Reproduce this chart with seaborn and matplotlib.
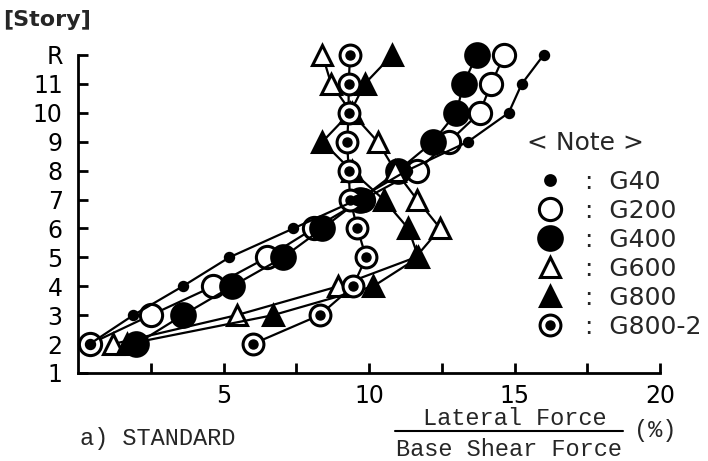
import matplotlib
matplotlib.use("Agg")
import matplotlib.pyplot as plt
from matplotlib.lines import Line2D
import seaborn as sns
import pandas as pd

stories = [2, 3, 4, 5, 6, 7, 8, 9, 10, 11, 12]
G40 = [0.4, 1.9, 3.6, 5.2, 7.4, 9.6, 11.3, 13.4, 14.8, 15.25, 16.0]
G200 = [0.4, 2.5, 4.65, 6.5, 8.1, 9.8, 11.65, 12.75, 13.8, 14.2, 14.65]
G400 = [2.0, 3.6, 5.3, 7.05, 8.4, 9.7, 11.0, 12.2, 13.0, 13.25, 13.7]
G600 = [1.2, 5.45, 8.95, 11.6, 12.45, 11.65, 10.9, 10.3, 9.4, 8.7, 8.4]
G800 = [1.7, 6.7, 10.15, 11.7, 11.35, 10.5, 9.4, 8.4, 9.35, 9.85, 10.8]
G800_2 = [6.0, 8.3, 9.45, 9.9, 9.6, 9.35, 9.3, 9.25, 9.3, 9.3, 9.35]

series_names = ["G40", "G200", "G400", "G600", "G800", "G800-2"]
series_vals = [G40, G200, G400, G600, G800, G800_2]
ytick_pos = [1, 2, 3, 4, 5, 6, 7, 8, 9, 10, 11, 12]
ytick_labels = ["1", "2", "3", "4", "5", "6", "7", "8", "9", "10", "11", "R"]
xtick_labels = ["", "5", "", "10", "", "15", "", "20"]

sns.set_theme(style="white")
plt.rcParams["font.family"] = ["DejaVu Sans"]

fig = plt.figure(figsize=(7.08, 4.61), dpi=100)
ax = fig.add_axes([78 / 708, 1 - 373 / 461, (660 - 78) / 708, (373 - 55) / 461])

styles = {
    "G40": dict(marker="o", ms=6, mfc="black", mec="black"),
    "G200": dict(marker="o", ms=16, mfc="white", mec="black"),
    "G400": dict(marker="o", ms=17, mfc="black", mec="black"),
    "G600": dict(marker="^", ms=15, mfc="white", mec="black"),
    "G800": dict(marker="^", ms=15, mfc="black", mec="black"),
    "G800-2": dict(marker="o", ms=15, mfc="white", mec="black"),
}

frames = []
for name, vals in zip(series_names, series_vals):
    frames.append(pd.DataFrame({"series": name, "story": stories, "force": vals}))
df = pd.concat(frames, ignore_index=True)

draw_order = ["G200", "G400", "G600", "G800", "G800-2", "G40"]
for name in draw_order:
    sub = df[df["series"] == name]
    st = styles[name]
    sns.lineplot(data=sub, x="force", y="story", orient="y", sort=True, ax=ax,
                 color="black", lw=1.6, marker=st["marker"], markersize=st["ms"],
                 markerfacecolor=st["mfc"], markeredgecolor=st["mec"],
                 markeredgewidth=2.2, clip_on=False, zorder=3)
    if name == "G800-2":
        ax.plot(sub["force"], sub["story"], ls="none", marker="o", ms=6.5,
                color="black", clip_on=False, zorder=3)

ax.set_xlim(0, 20)
ax.set_ylim(1, 12)
ax.set_xticks([2.5, 5, 7.5, 10, 12.5, 15, 17.5, 20])
ax.set_xticklabels(xtick_labels)
ax.set_yticks(ytick_pos)
ax.set_yticklabels(ytick_labels)
ax.set_xlabel("")
ax.set_ylabel("")
for s in ["top", "right"]:
    ax.spines[s].set_visible(False)
for s in ["left", "bottom"]:
    ax.spines[s].set_color("black")
    ax.spines[s].set_linewidth(2.0)
ax.tick_params(axis="both", direction="in", length=7, width=2.0, colors="black",
               labelsize=17, left=True, bottom=True)
ax.tick_params(axis="y", pad=11)
ax.tick_params(axis="x", pad=8)
ax.grid(False)

# Legend
handles = []
labels = []
for name in series_names:
    st = styles[name]
    ms = {"G40": 7, "G200": 16, "G400": 17, "G600": 15, "G800": 15, "G800-2": 15}[name]
    h = Line2D([], [], ls="none", marker=st["marker"], ms=ms, mfc=st["mfc"],
               mec="black", mew=2.2)
    if name == "G800-2":
        h2 = Line2D([], [], ls="none", marker="o", ms=6.5, color="black")
        h = (h, h2)
    handles.append(h)
    labels.append(":  " + name)
leg = ax.legend(handles, labels, loc="upper left", bbox_to_anchor=(536 / 708, 1 - 170 / 461),
                bbox_transform=fig.transFigure, frameon=False, fontsize=18,
                handletextpad=0.85, labelspacing=0.2, handlelength=1.1,
                borderaxespad=0, borderpad=0)
fig.text(585 / 708, 1 - 143 / 461, "< Note >", ha="center", va="center", fontsize=18)

fig.text(3 / 708, 1 - 20 / 461, "[Story]", ha="left", va="center", fontsize=16,
         fontweight="bold")

mono = ["Liberation Mono", "DejaVu Sans Mono"]
fig.text(158 / 708, 1 - 438 / 461, "a) STANDARD", ha="center", va="center",
         fontsize=17, family=mono)
fig.text(515 / 708, 1 - 418 / 461, "Lateral Force", ha="center", va="center",
         fontsize=17, family=mono)
fig.text(509 / 708, 1 - 449 / 461, "Base Shear Force", ha="center", va="center",
         fontsize=17, family=mono)
fig.add_artist(Line2D([395 / 708, 623 / 708], [1 - 431 / 461, 1 - 431 / 461],
                      color="black", lw=1.5, transform=fig.transFigure))
fig.text(655 / 708, 1 - 430 / 461, "(%)", ha="center", va="center",
         fontsize=17, family=mono)

fig.savefig("out.png", dpi=100)
